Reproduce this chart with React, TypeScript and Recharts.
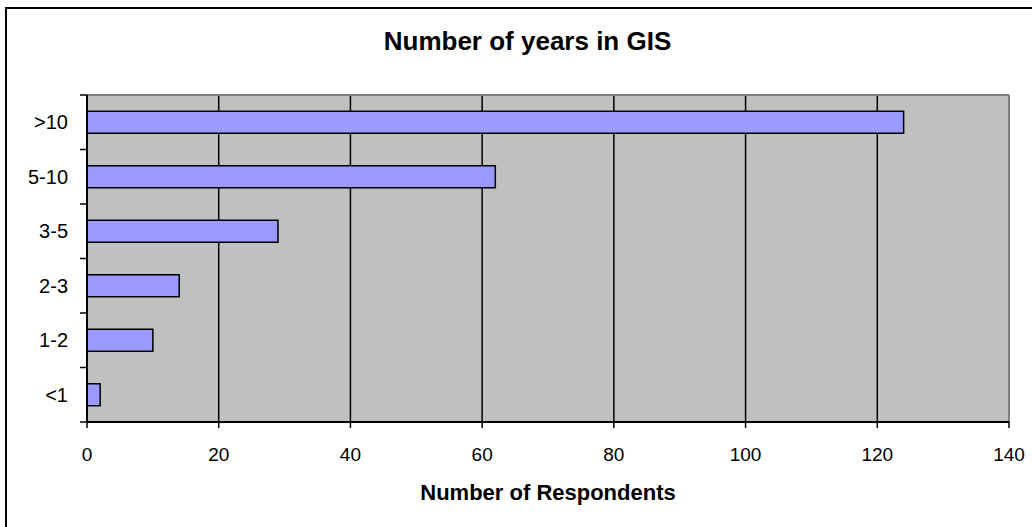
import { Bar, BarChart, CartesianGrid, ReferenceLine, XAxis, YAxis } from "recharts";

const categories = [">10", "5-10", "3-5", "2-3", "1-2", "<1"];
const respondents = [124, 62, 29, 14, 10, 2];
const xTicks = [0, 20, 40, 60, 80, 100, 120, 140];

const data = categories.map((c, i) => ({ c, v: respondents[i] }));
const font = "'Liberation Sans', Arial, sans-serif";

// category label plus a tick mark on the boundary above it (and below the last one)
function CatTick(props: any) {
  const { x, y, payload, index, visibleTicksCount } = props;
  const half = payload && payload.offset ? payload.offset : 0;
  const axisX = x + 13 + 6;
  return (
    <g>
      <text
        x={x}
        y={y}
        dy="0.355em"
        textAnchor="end"
        fill="#000"
        fontSize={20}
        fontFamily={font}
      >
        {payload.value}
      </text>
      <line x1={axisX - 7} x2={axisX} y1={y - half} y2={y - half} stroke="#000" strokeWidth={1.5} />
      {index === visibleTicksCount - 1 && (
        <line x1={axisX - 7} x2={axisX} y1={y + half} y2={y + half} stroke="#000" strokeWidth={1.5} />
      )}
    </g>
  );
}

export default function App() {
  return (
    <div
      style={ {
        position: "absolute",
        left: 0,
        top: 0,
        width: 1032,
        height: 527,
        overflow: "hidden",
        background: "#fff",
        fontFamily: font,
      } }
    >
      <div
        style={ {
          position: "absolute",
          left: 5,
          top: 7,
          width: 1100,
          height: 600,
          border: "2px solid #000",
          boxSizing: "border-box",
        } }
      />
      <div
        style={ {
          position: "absolute",
          left: 0,
          width: 1055,
          top: 26,
          textAlign: "center",
          fontWeight: "bold",
          fontSize: 26,
          lineHeight: "30px",
        } }
      >
        Number of years in GIS
      </div>
      <div
        style={ {
          position: "absolute",
          left: 87,
          width: 922,
          top: 480,
          textAlign: "center",
          fontWeight: "bold",
          fontSize: 22,
          lineHeight: "26px",
        } }
      >
        Number of Respondents
      </div>
      <BarChart
        width={1032}
        height={527}
        data={data}
        layout="vertical"
        barCategoryGap="30%"
        margin={ { top: 95, right: 23, bottom: 45, left: 0 } }
        style={ { position: "absolute", left: 0, top: 0 } }
      >
        <CartesianGrid
          fill="#C0C0C0"
          stroke="#000"
          strokeWidth={1.5}
          horizontal={false}
          fillOpacity={1}
        />
        <CartesianGrid
          vertical={false}
          stroke="#808080"
          strokeWidth={2}
          horizontalCoordinatesGenerator={({ offset }: any) => [offset.top]}
        />
        <ReferenceLine x={140} stroke="#808080" strokeWidth={2} />
        <XAxis
          type="number"
          domain={[0, 140]}
          ticks={xTicks}
          height={60}
          tickSize={6}
          tickMargin={20}
          axisLine={ { stroke: "#000", strokeWidth: 2 } }
          tickLine={ { stroke: "#000", strokeWidth: 1.5 } }
          tick={ { fill: "#000", fontSize: 19, fontFamily: font } }
        />
        <YAxis
          type="category"
          dataKey="c"
          width={87}
          tickLine={false}
          tickMargin={13}
          axisLine={ { stroke: "#000", strokeWidth: 2 } }
          tick={<CatTick />}
        />
        <Bar
          dataKey="v"
          fill="#9999FF"
          stroke="#000"
          strokeWidth={1.5}
          isAnimationActive={false}
        />
      </BarChart>
    </div>
  );
}
